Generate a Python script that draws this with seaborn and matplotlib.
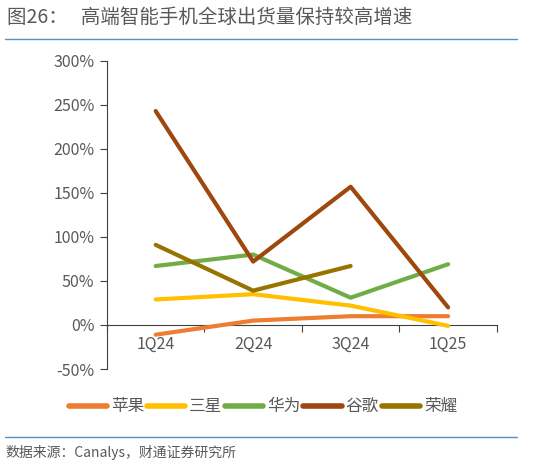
import matplotlib
matplotlib.use("Agg")
import matplotlib.pyplot as plt
import seaborn as sns
import pandas as pd
import numpy as np
from matplotlib.ticker import FuncFormatter, FixedLocator

quarters = ["1Q24", "2Q24", "3Q24", "1Q25"]
apple = [-11, 5, 10, 10]
samsung = [29, 35, 22, -1]
huawei = [67, 80, 31, 69]
google = [243, 72, 157, 20]
honor = [91, 39, 67, np.nan]
series_names = ["苹果", "三星", "华为", "谷歌", "荣耀"]
colors = ["#ED7D31", "#FFC000", "#70AD47", "#9E480E", "#997300"]
yticks = [-50, 0, 50, 100, 150, 200, 250, 300]

sns.set_theme(style="white")
plt.rcParams['font.family'] = ['Noto Sans CJK SC', 'DejaVu Sans']

rows = []
for name, vals in zip(series_names, [apple, samsung, huawei, google, honor]):
    for q, v in zip(quarters, vals):
        rows.append({"季度": q, "值": v, "系列": name})
df = pd.DataFrame(rows)

fig = plt.figure(figsize=(5.57, 4.68), dpi=100)
ax = fig.add_axes([0.192, 0.2115, 0.7, 0.6585])

sns.lineplot(data=df, x="季度", y="值", hue="系列", hue_order=series_names,
             palette=colors, linewidth=3.0, ax=ax, legend=True,
             solid_capstyle="round")

gray = "#595959"
axis_c = "#404040"
ax.set_xlim(-0.5, 3.5)
ax.set_ylim(-50, 300)
ax.set_yticks(yticks)
ax.yaxis.set_major_formatter(FuncFormatter(lambda v, p: f"{int(v)}%"))
ax.set_xlabel("")
ax.set_ylabel("")
for s in ["top", "right"]:
    ax.spines[s].set_visible(False)
ax.spines["left"].set_color(axis_c)
ax.spines["left"].set_linewidth(0.8)
ax.spines["bottom"].set_position(("data", 0))
ax.spines["bottom"].set_color(axis_c)
ax.spines["bottom"].set_linewidth(0.8)
ax.spines["bottom"].set_zorder(1)
ax.tick_params(axis="y", which="major", left=True, length=5, width=0.8,
               color=axis_c, labelsize=11.5, labelcolor=gray, pad=4)
ax.xaxis.set_minor_locator(FixedLocator([-0.5, 0.5, 1.5, 2.5, 3.5]))
ax.tick_params(axis="x", which="major", bottom=True, length=0, labelsize=11.5,
               labelcolor=gray, pad=8)
ax.tick_params(axis="x", which="minor", bottom=True, length=5, width=0.8,
               color=axis_c, direction="out")

leg = ax.legend(loc="center", bbox_to_anchor=(0.40, -0.123), ncol=5,
                frameon=False, fontsize=12, handlelength=2.3, handletextpad=0.25,
                columnspacing=0.15)
for t in leg.get_texts():
    t.set_color(gray)
for h in leg.get_lines():
    h.set_linewidth(4)
    h.set_solid_capstyle("round")

fig.text(0.012, 0.962, "图26：   高端智能手机全球出货量保持较高增速", fontsize=14,
         color=gray, va="center", ha="left")
line_color = "#5B8DC9"
fig.add_artist(plt.Line2D([0.009, 0.928], [0.917, 0.917], color=line_color,
                          linewidth=1.0, transform=fig.transFigure))
fig.add_artist(plt.Line2D([0.009, 0.928], [0.066, 0.066], color=line_color,
                          linewidth=1.0, transform=fig.transFigure))
fig.text(0.009, 0.033, "数据来源：Canalys，财通证券研究所", fontsize=10,
         color=gray, va="center", ha="left")

fig.savefig("out.png", dpi=100)
